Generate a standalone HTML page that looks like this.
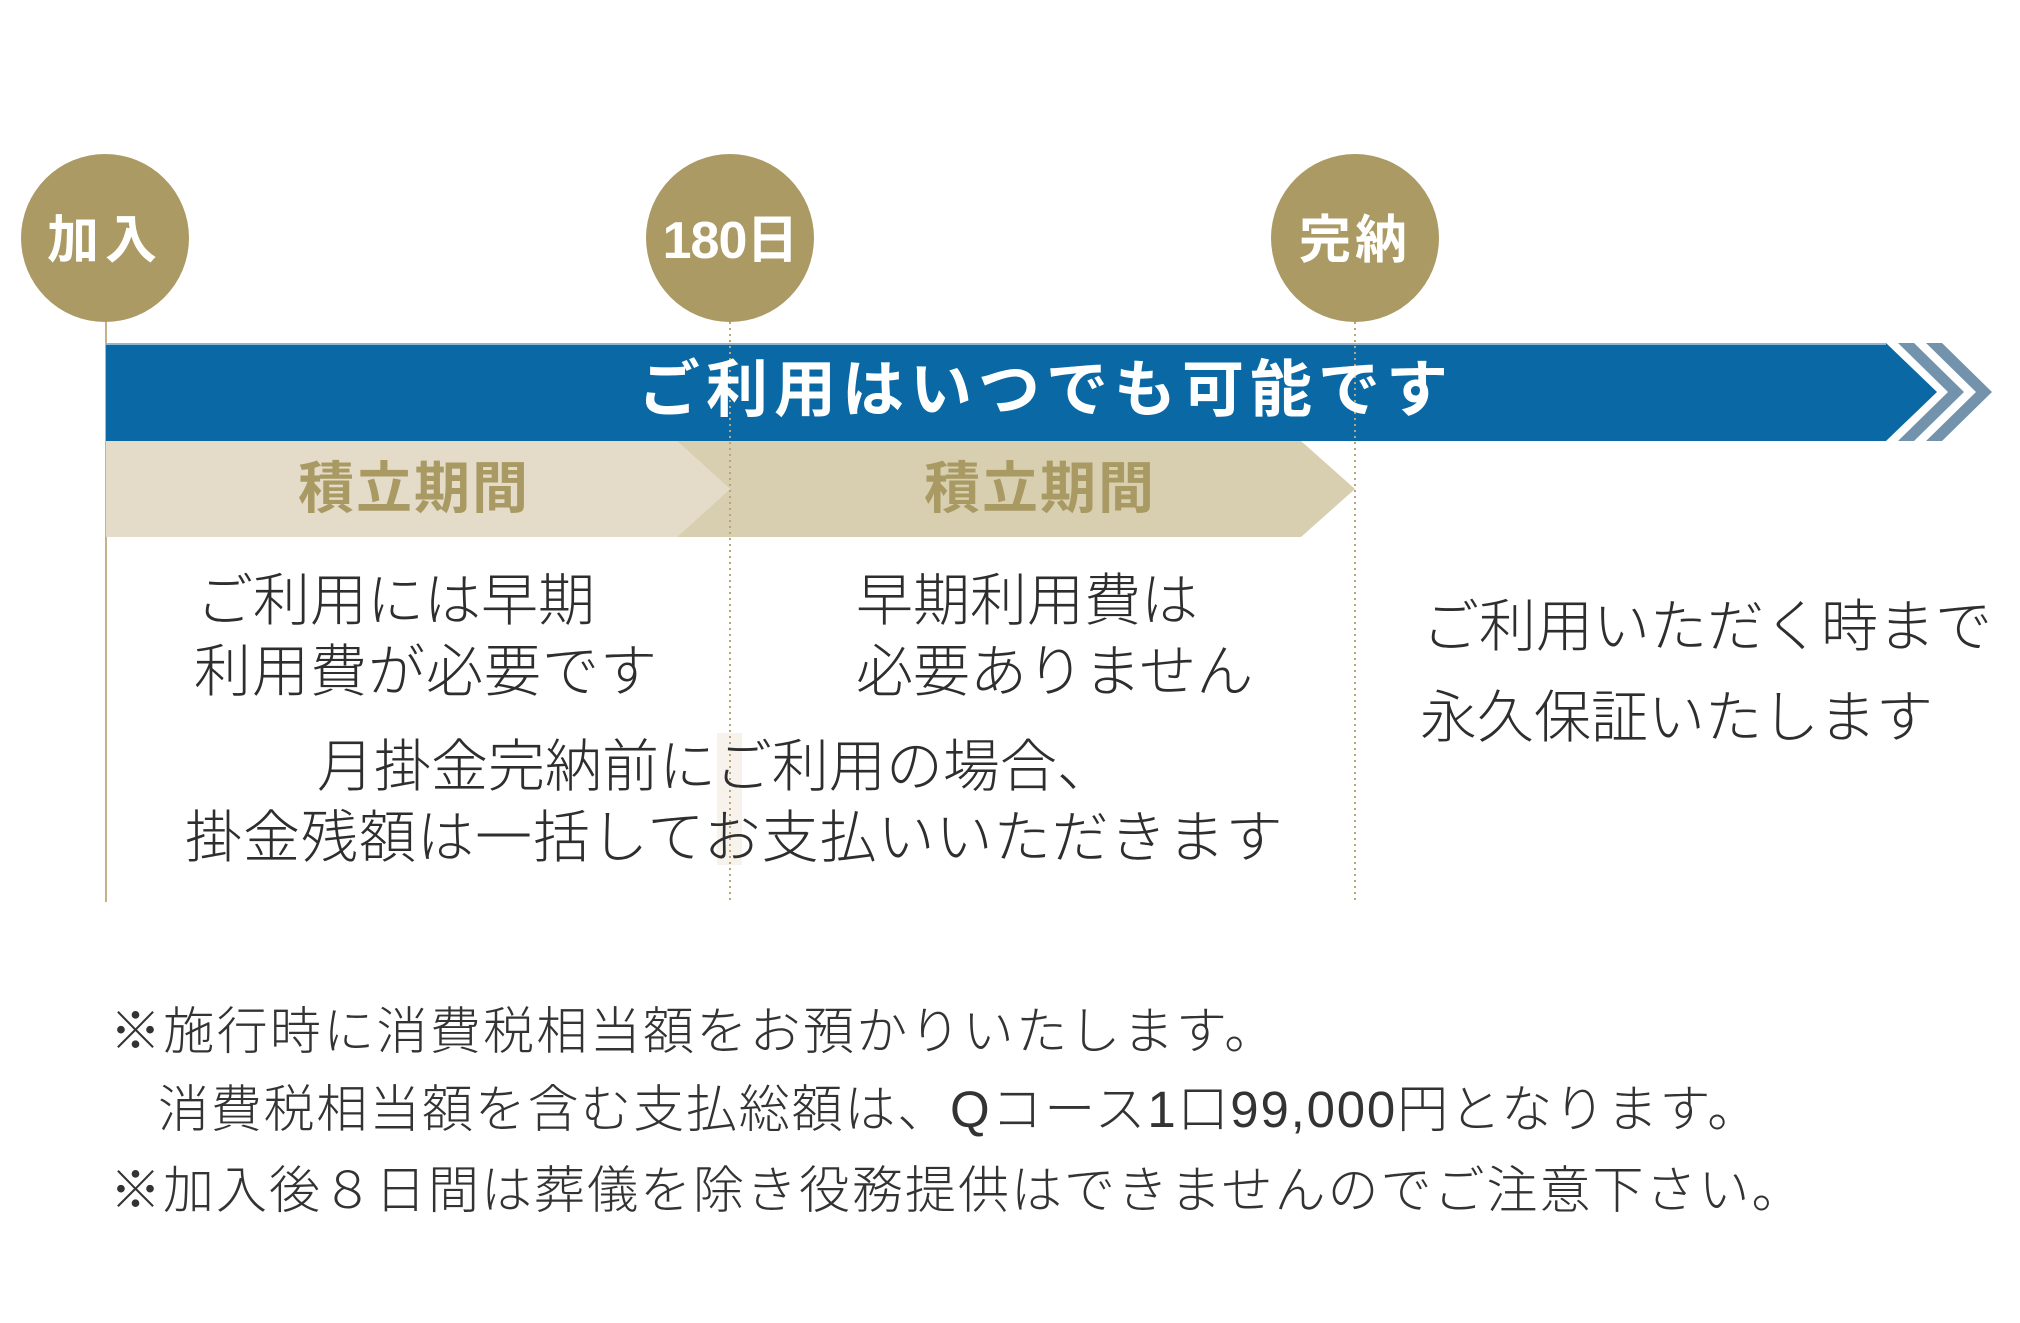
<!DOCTYPE html>
<html><head><meta charset="utf-8"><style>
html,body{margin:0;padding:0;background:#fff}
#c{position:relative;width:2020px;height:1323px;overflow:hidden;font-family:"Liberation Sans","Noto Sans CJK JP",sans-serif}
.t{position:absolute;white-space:nowrap;line-height:1;color:#2e2e2e;font-size:57px;font-weight:300}
.ct{position:absolute;width:170px;text-align:center;color:#fff;font-weight:bold;font-size:52px;line-height:1}
.g{position:absolute;color:#a99a64;font-weight:bold;font-size:56px;line-height:1;letter-spacing:2px}
.f{position:absolute;white-space:nowrap;line-height:1;color:#333;font-size:51px;font-weight:300}
</style></head><body><div id="c">
<svg width="2020" height="1323" style="position:absolute;left:0;top:0">
<line x1="106" y1="322" x2="106" y2="902" stroke="#c4b38a" stroke-width="2"/>
<rect x="717" y="733" width="25" height="132" fill="#f7f3ec"/>
<polygon points="106,441 677,441 730,489 677,537 106,537" fill="#e4dcc8"/>
<polygon points="677,441 1301,441 1355,489 1301,537 677,537 730,489" fill="#d8cfb0"/>
<polygon points="106,343 1886,343 1937,392 1886,441 106,441" fill="#0a69a5"/>
<line x1="106" y1="344" x2="1886" y2="344" stroke="#8fb6d3" stroke-width="2"/>
<polygon points="1898,343 1914,343 1964,392 1914,441 1898,441 1948,392" fill="#7393ad"/>
<polygon points="1926,343 1942,343 1992,392 1942,441 1926,441 1976,392" fill="#7393ad"/>
<line x1="730" y1="322" x2="730" y2="902" stroke="#b9a578" stroke-width="2" stroke-dasharray="2,4"/>
<line x1="1355" y1="322" x2="1355" y2="902" stroke="#b9a578" stroke-width="2" stroke-dasharray="2,4"/>
<circle cx="105" cy="238" r="84" fill="#ab9a64"/>
<circle cx="730" cy="238" r="84" fill="#ab9a64"/>
<circle cx="1355" cy="238" r="84" fill="#ab9a64"/>
</svg>
<div class="ct" style="left:20px;top:215px;letter-spacing:6px">加入</div>
<div class="ct" style="left:645px;top:215px;letter-spacing:-1px">180日</div>
<div class="ct" style="left:1270px;top:215px;letter-spacing:4px">完納</div>
<div class="t" style="left:638px;top:360px;color:#fff;font-size:62px;font-weight:bold;letter-spacing:6px">ご利用はいつでも可能です</div>
<div class="g" style="left:298px;top:461px">積立期間</div>
<div class="g" style="left:924px;top:461px">積立期間</div>
<div class="t" style="left:196px;top:573px">ご利用には早期</div>
<div class="t" style="left:194px;top:644px;letter-spacing:1px">利用費が必要です</div>
<div class="t" style="left:856px;top:573px">早期利用費は</div>
<div class="t" style="left:856px;top:644px">必要ありません</div>
<div class="t" style="left:317px;top:739px">月掛金完納前にご利用の場合、</div>
<div class="t" style="left:185px;top:810px;letter-spacing:1px">掛金残額は一括してお支払いいただきます</div>
<div class="t" style="left:1422px;top:599px">ご利用いただく時まで</div>
<div class="t" style="left:1420px;top:690px">永久保証いたします</div>
<div class="f" style="left:110px;top:1006px;letter-spacing:2.3px">※施行時に消費税相当額をお預かりいたします。</div>
<div class="f" style="left:158px;top:1084px;letter-spacing:1.8px">消費税相当額を含む支払総額は、Qコース1口99,000円となります。</div>
<div class="f" style="left:110px;top:1165px;letter-spacing:2px">※加入後８日間は葬儀を除き役務提供はできませんのでご注意下さい。</div>
</div></body></html>
